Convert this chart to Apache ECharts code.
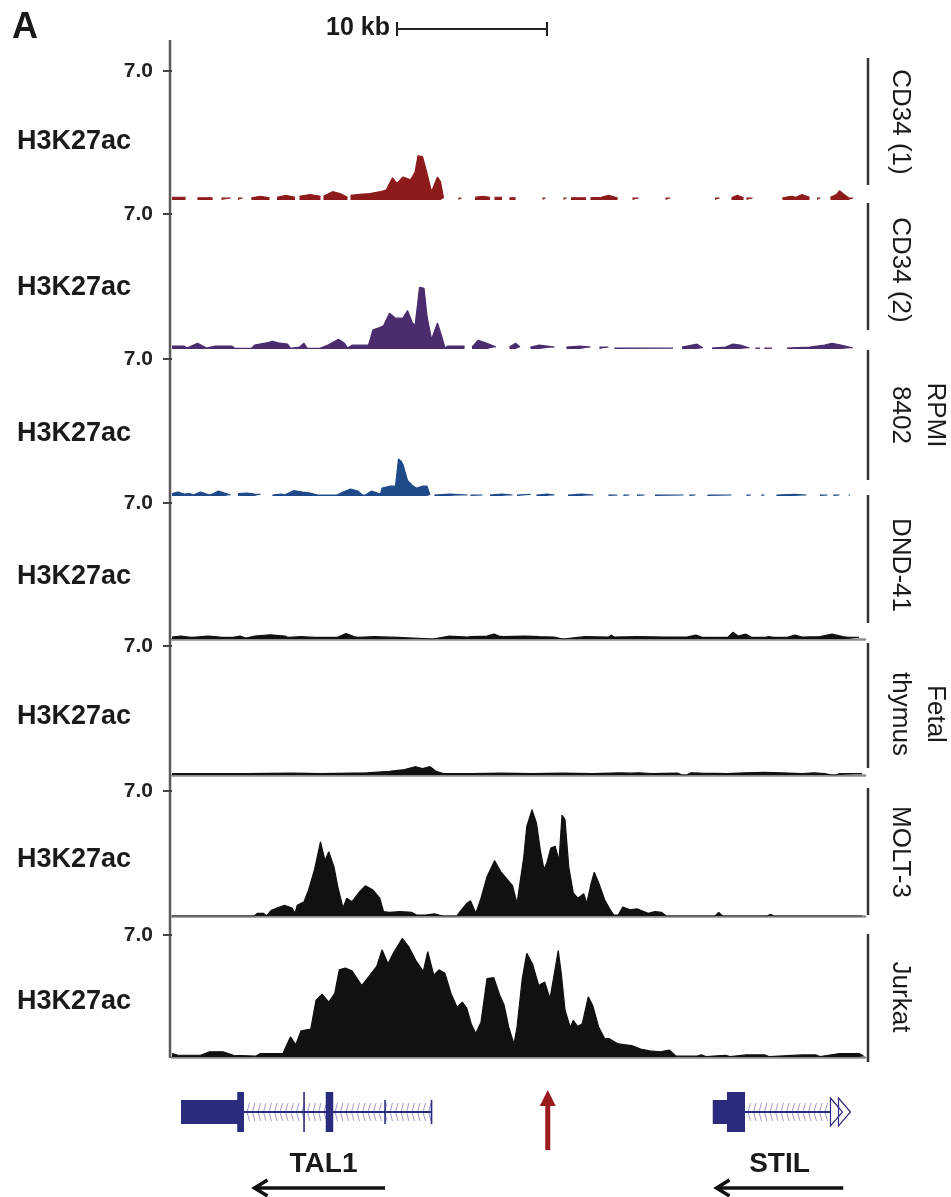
<!DOCTYPE html>
<html>
<head>
<meta charset="utf-8">
<script src="https://cdn.jsdelivr.net/npm/echarts@6.0.0/dist/echarts.min.js"></script>
<style>
  html, body { margin: 0; padding: 0; background: #fff; }
  #main { width: 951px; height: 1197px; }
</style>
</head>
<body>
<div id="main"></div>
<script>
// H3K27ac signal, [position (kb), value]; '-' = no data
var cd34a = [
  [0,0.15],[0.9,0.15],[1.3,'-'],[1.7,0.12],[2.7,0.12],[3.0,'-'],[3.3,0.1],[3.9,0.1],[4.1,'-'],
  [4.4,0.1],[4.7,0.1],[5.0,'-'],[5.3,0.12],[5.9,0.2],[6.5,0.12],[6.8,'-'],[7.0,0.15],[7.6,0.25],[8.2,0.15],[8.35,'-'],
  [8.5,0.2],[9.2,0.3],[9.9,0.2],[10.0,'-'],[10.1,0.2],[10.7,0.45],[11.2,0.35],[11.7,0.15],[11.8,'-'],
  [11.9,0.25],[12.5,0.3],[13.2,0.35],[13.9,0.45],[14.3,0.55],[14.5,0.9],[14.7,1.2],[15.0,0.9],[15.4,1.25],[15.9,1.1],
  [16.2,1.5],[16.4,2.4],[16.7,2.35],[17.0,1.45],[17.3,0.45],[17.7,1.25],[17.9,1.0],[18.1,0.1],[18.6,'-'],
  [19.1,0.1],[19.3,0.1],[19.7,'-'],[20.2,0.15],[20.7,0.2],[21.2,0.15],[21.35,'-'],[21.5,0.15],[22.0,0.15],[22.2,'-'],
  [22.5,0.12],[22.9,0.12],[23.5,'-'],[24.7,0.1],[24.9,0.1],[25.5,'-'],[26.1,0.1],[26.3,0.1],[26.45,'-'],
  [26.6,0.12],[27.6,0.12],[27.75,'-'],[27.9,0.12],[28.6,0.15],[29.1,0.25],[29.7,0.12],[30.2,'-'],
  [30.7,0.1],[31.1,0.1],[32,'-'],[32.9,0.1],[33.2,0.1],[34.5,'-'],[36.2,0.1],[36.5,0.1],[36.9,'-'],
  [37.3,0.12],[37.7,0.25],[38.1,0.12],[38.2,'-'],[38.3,0.1],[38.7,0.1],[39.5,'-'],
  [40.7,0.12],[41.3,0.2],[41.6,0.15],[42.0,0.3],[42.5,0.15],[42.8,'-'],[43.0,0.1],[43.2,0.1],[43.5,'-'],
  [43.9,0.15],[44.3,0.3],[44.5,0.5],[44.8,0.3],[45.1,0.12],[45.4,0.1]
];
var cd34b = [
  [0,0.15],[0.8,0.15],[1.0,0.05],[1.7,0.3],[2.3,0.05],[2.9,0.15],[4.0,0.15],[4.2,0.03],[5.3,0.03],[5.5,0.2],
  [6.2,0.3],[6.7,0.4],[7.2,0.3],[7.7,0.25],[7.9,0.03],[8.5,0.1],[8.8,0.3],[9.0,0.05],[9.5,0.03],[9.9,0.05],
  [10.4,0.2],[11.1,0.5],[11.5,0.3],[11.7,0.05],[12.0,0.2],[12.7,0.2],[13.1,0.2],[13.4,1.0],[13.8,1.1],[14.1,1.2],
  [14.5,1.85],[14.9,1.6],[15.4,1.6],[15.7,2.0],[16.0,1.4],[16.2,1.2],[16.4,2.5],[16.5,3.2],[16.8,3.15],[17.0,1.7],
  [17.3,0.5],[17.7,1.35],[18.0,0.6],[18.2,0.05],[18.4,0.15],[19.5,0.15],[19.8,'-'],
  [20.0,0.1],[20.4,0.45],[21.0,0.3],[21.6,0.1],[22.0,'-'],[22.5,0.1],[22.9,0.3],[23.2,0.1],[23.5,'-'],
  [23.9,0.1],[24.5,0.2],[25.5,0.1],[25.9,'-'],[26.3,0.1],[27.2,0.15],[27.9,0.1],[28.2,'-'],
  [28.5,0.1],[29.1,0.1],[29.3,'-'],[29.5,0.05],[33.4,0.05],[33.7,'-'],[34.0,0.1],[35.0,0.25],[35.4,0.05],[35.7,'-'],
  [36.0,0.05],[36.9,0.1],[37.4,0.25],[37.9,0.2],[38.5,0.05],[38.7,'-'],[38.9,0.05],[39.2,0.05],[39.35,'-'],
  [39.5,0.05],[40.0,0.05],[40.5,'-'],[41.0,0.05],[42.5,0.1],[43.5,0.2],[44.0,0.3],[44.6,0.2],[45.4,0.05]
];
var rpmi = [
  [0,0.12],[0.4,0.2],[0.8,0.1],[1.2,0.12],[1.4,0.05],[1.9,0.2],[2.5,0.05],[2.7,0.1],[3.1,0.25],[3.5,0.15],[3.9,0.05],[4.2,'-'],
  [4.4,0.12],[5.0,0.15],[5.5,0.1],[5.9,0.08],[6.3,'-'],[6.7,0.05],[7.3,0.1],[7.5,0.05],[8.1,0.27],[8.7,0.2],[9.2,0.15],
  [9.7,0.05],[11.0,0.05],[11.4,0.2],[11.9,0.35],[12.4,0.25],[12.7,0.05],[12.9,0.05],[13.3,0.25],[13.9,0.1],[14.0,0.4],
  [14.5,0.5],[14.9,0.5],[15.0,1.2],[15.1,1.9],[15.3,1.75],[15.4,1.6],[15.7,0.8],[16.0,0.55],[16.3,0.4],[16.7,0.5],
  [17.0,0.5],[17.2,0.05],[17.35,'-'],[17.5,0.05],[18.5,0.1],[19.7,0.05],[19.8,'-'],[19.9,0.05],[20.7,0.05],[20.9,'-'],
  [21.2,0.05],[22.0,0.1],[22.7,0.05],[22.85,'-'],[23.0,0.05],[23.9,0.08],[24.1,'-'],[24.3,0.05],[25.0,0.1],[25.5,0.05],[26,'-'],
  [26.4,0.05],[27.3,0.1],[28.1,0.05],[28.6,'-'],[29.1,0.05],[29.7,0.05],[29.9,'-'],[30.1,0.05],[30.5,0.05],[30.8,'-'],
  [31.0,0.05],[31.5,0.05],[31.8,'-'],[32.2,0.05],[34.1,0.05],[34.3,'-'],[34.5,0.05],[34.9,0.05],[35.3,'-'],
  [35.7,0.05],[37.3,0.05],[37.8,'-'],[38.3,0.05],[38.6,0.05],[38.9,'-'],[39.3,0.05],[39.5,0.05],[39.9,'-'],
  [40.3,0.05],[41.5,0.08],[42.3,0.05],[42.7,'-'],[43.2,0.05],[43.7,0.05],[43.9,'-'],[44.1,0.05],[44.5,0.05],[44.8,'-'],
  [45.1,0.05],[45.2,0.05]
];
var dnd41 = [
  [0,0.1],[0.6,0.15],[1.27,0.08],[1.6,0.1],[2.4,0.15],[3.2,0.1],[4.07,0.08],[4.53,0.15],[4.93,0.05],[5.53,0.15],
  [6.53,0.22],[7.53,0.15],[7.73,0.08],[8.6,0.12],[9.53,0.08],[11.07,0.1],[11.6,0.28],[12.13,0.12],[12.33,0.08],
  [13.5,0.12],[15.07,0.08],[15.2,0],[17.4,0],[17.53,0.1],[18.5,0.15],[19.67,0.1],[19.93,0.12],[21.0,0.15],[21.47,0.25],
  [21.8,0.15],[22.07,0.12],[23.5,0.15],[24.5,0.12],[25.47,0.1],[25.6,0],[26.07,0],[26.2,0.08],[27.5,0.12],[29.13,0.1],
  [29.27,0.2],[29.47,0.1],[31.0,0.12],[33.0,0.1],[34.33,0.1],[34.93,0.2],[35.4,0.08],[37.07,0.1],[37.4,0.35],[37.73,0.15],
  [38.27,0.25],[38.6,0.1],[39.53,0.08],[39.8,0.12],[40.13,0.08],[41.07,0.1],[41.53,0.2],[42.0,0.1],[43.2,0.12],[44.0,0.25],
  [44.73,0.12],[45.07,0.08],[45.8,0.08]
];
var fetalThymus = [
  [0,0.08],[5,0.08],[8,0.1],[10,0.08],[13,0.12],[14.5,0.2],[15.5,0.3],[16.2,0.45],[16.7,0.35],[17.2,0.45],[17.6,0.2],
  [18.1,0.08],[20,0.08],[22,0.1],[24,0.08],[26,0.1],[28,0.08],[29.9,0.12],[30.6,0.1],[31.1,0.12],[32,0.08],[33.7,0.1],
  [34.0,0],[34.3,0],[34.6,0.12],[35.3,0.1],[37,0.08],[38.2,0.12],[39.5,0.15],[40.6,0.12],[42,0.08],[42.8,0.12],[43.5,0.08],
  [44.0,0],[44.3,0],[44.5,0.08],[46,0.08]
];
var molt3 = [
  [0,0],[5.5,0],[5.7,0.15],[6.1,0.15],[6.3,0],[6.6,0.3],[7.0,0.45],[7.5,0.6],[8.0,0.45],[8.2,0.15],[8.35,0.6],[8.8,0.8],
  [9.1,1.45],[9.5,2.6],[9.9,4.15],[10.2,3.1],[10.45,3.6],[10.8,2.75],[11.05,1.65],[11.4,0.45],[11.65,1.0],[12.0,0.8],
  [12.45,1.3],[12.9,1.7],[13.4,1.45],[13.85,1.0],[14.1,0.25],[14.5,0.2],[15.2,0.25],[16.0,0.2],[16.3,0.05],[16.9,0.05],
  [17.5,0.12],[17.8,0.05],[18.1,0],[19.0,0],[19.2,0.25],[19.65,0.7],[19.9,0.85],[20.25,0.15],[20.6,1.0],[21.0,2.2],
  [21.5,3.1],[21.9,2.5],[22.4,2.0],[22.7,1.7],[23.0,0.7],[23.45,3.3],[23.65,5.0],[24.0,5.95],[24.3,5.2],[24.55,3.7],
  [24.8,2.6],[25.0,3.0],[25.25,3.8],[25.55,3.9],[25.8,3.1],[26.0,5.65],[26.2,5.4],[26.45,2.75],[26.75,1.3],[27.05,1.0],
  [27.45,1.25],[27.65,0.7],[27.95,1.85],[28.15,2.45],[28.45,1.85],[28.85,0.9],[29.15,0.45],[29.45,0.05],[29.75,0.05],
  [30.05,0.5],[30.55,0.35],[31.0,0.4],[31.45,0.25],[31.75,0.15],[32.2,0.25],[32.65,0.2],[32.95,0],[36.2,0],[36.45,0.2],
  [36.7,0],[39.7,0],[39.9,0.1],[40.1,0],[46,0]
];
var jurkat = [
  [0,0.2],[0.4,0.1],[1.9,0.1],[2.5,0.3],[3.4,0.3],[4.1,0.1],[5.6,0.05],[5.9,0.2],[7.4,0.2],[7.55,0.5],[7.9,1.15],
  [8.25,0.7],[8.6,1.5],[9.25,1.6],[9.6,3.25],[10.0,3.6],[10.45,3.15],[10.85,3.65],[11.15,5.0],[11.55,5.1],[12.0,4.95],
  [12.65,4.1],[13.2,4.7],[13.65,5.2],[14.0,6.15],[14.4,5.35],[14.75,5.95],[15.35,6.8],[15.8,6.3],[16.25,5.55],[16.75,4.9],
  [17.05,6.05],[17.45,4.7],[17.8,5.0],[18.2,4.8],[18.6,3.65],[19.0,2.85],[19.35,3.15],[19.65,2.8],[19.95,1.9],[20.25,1.35],
  [20.6,2.0],[21.0,4.5],[21.45,4.55],[21.85,3.55],[22.15,2.95],[22.45,1.7],[22.8,0.75],[23.0,1.7],[23.35,4.5],[23.65,5.95],
  [24.05,5.3],[24.45,4.1],[24.85,4.3],[25.2,3.35],[25.45,4.6],[25.75,6.1],[25.95,4.8],[26.2,2.7],[26.55,1.7],[26.75,2.1],
  [27.05,1.75],[27.35,1.9],[27.75,3.45],[28.05,2.95],[28.45,1.7],[28.85,1.05],[29.15,1.05],[29.75,0.75],[30.65,0.65],
  [31.25,0.45],[31.85,0.35],[32.55,0.3],[33.15,0.4],[33.6,0.05],[35.0,0.05],[35.3,0.12],[35.6,0.03],[36.9,0.1],[37.2,0.03],
  [38.3,0.12],[39.5,0.12],[39.8,0.03],[42.0,0.12],[42.9,0.12],[43.2,0.03],[44.5,0.2],[45.8,0.2],[46.1,0.05]
];

var tracks = [cd34a, cd34b, rpmi, dnd41, fetalThymus, molt3, jurkat];
var trackNames = ['CD34 (1)', 'CD34 (2)', 'RPMI\n8402', 'DND-41', 'Fetal\nthymus', 'MOLT-3', 'Jurkat'];
var markName = 'H3K27ac';
var yMax = 7.0;

// genes: [start kb, end kb, kind] kind 1 = tall exon, 0 = short
var tal1Exons = [[0.6,4.4,0],[4.35,4.8,1],[8.75,8.85,1],[10.25,10.75,1],[14.15,14.25,0],[17.25,17.35,0]];
var stilExons = [[36.05,37.0,0],[37.0,38.2,1]];
var introns = [[4.8,17.33],[38.2,43.9]];
var stilEnd = [[43.9]];
var geneNames = ['TAL1', 'STIL'];
var geneLabelAt = [10.1, 40.5];
var strandArrows = [[14.2,5.5],[44.75,36.3]];   // tail, head
var enhancerAt = [[25.05]];
var scaleBar = [[15, 25]];
var scaleLabel = '10 kb';

// layout
var font = '"Liberation Sans", Arial, Helvetica, sans-serif';
var trackTop = [71, 214, 359, 503, 646, 791, 935];
var trackBottom = [200, 349, 496, 639, 775, 916, 1057];
var brackets = [[58,185],[203,330],[350,480],[495,623],[643,768],[788,915],[934,1062]];
var labelMid = [122, 270, 415, 565, 714, 852, 997];
var colors = ['#8e1b1b', '#4b2c6f', '#1f4a8a', '#111', '#111', '#111', '#111'];
var geneColor = '#2b2b7d';
var plotLeft = 172, plotRight = 86, xMax = 46.2;

var chart = echarts.init(document.getElementById('main'));

var grids = [], xAxes = [], yAxes = [], series = [];
for (var i = 0; i < tracks.length; i++) {
  grids.push({ left: plotLeft, right: plotRight, top: trackTop[i], height: trackBottom[i] - trackTop[i] });
  xAxes.push({
    type: 'value', gridIndex: i, min: 0, max: xMax,
    axisLine: { show: i >= 3, lineStyle: { color: '#8c8c8c', width: 2.5 } },
    axisTick: { show: false }, axisLabel: { show: false }, splitLine: { show: false }
  });
  yAxes.push({
    type: 'value', gridIndex: i, min: 0, max: yMax, offset: 2,
    axisLine: { show: false }, splitLine: { show: false },
    axisTick: { show: true, length: 9, customValues: [yMax], lineStyle: { color: '#444', width: 2 } },
    axisLabel: {
      customValues: [yMax], margin: 17, fontSize: 21, fontWeight: 'bold', color: '#222', fontFamily: font,
      formatter: function (v) { return v.toFixed(1); }
    }
  });
  series.push({
    type: 'line', xAxisIndex: i, yAxisIndex: i, data: tracks[i],
    showSymbol: false, symbol: 'none', connectNulls: false, silent: true, z: 3,
    lineStyle: { width: 1.2, color: colors[i] },
    areaStyle: { color: colors[i], opacity: 1 }
  });
}

// gene grid
var gi = tracks.length;
grids.push({ left: plotLeft, right: plotRight, top: 1092, height: 40 });
xAxes.push({ type: 'value', gridIndex: gi, min: 0, max: xMax, show: false });
yAxes.push({ type: 'value', gridIndex: gi, min: -1, max: 1, show: false });

function renderExon(params, api) {
  var a = api.coord([api.value(0), 0]);
  var b = api.coord([api.value(1), 0]);
  var half = api.value(2) === 1 ? 20 : 12;
  return {
    type: 'rect',
    shape: { x: a[0], y: a[1] - half, width: Math.max(b[0] - a[0], 1.6), height: half * 2 },
    style: { fill: geneColor }
  };
}

function renderIntron(params, api) {
  var a = api.coord([api.value(0), 0]);
  var b = api.coord([api.value(1), 0]);
  var kids = [];
  for (var x = a[0] + 3; x < b[0] - 3; x += 5.5) {
    kids.push({
      type: 'polyline',
      shape: { points: [[x + 2.5, a[1] - 9], [x, a[1]], [x + 2.5, a[1] + 9]] },
      style: { stroke: '#9191cf', lineWidth: 0.9, fill: null }
    });
  }
  kids.push({ type: 'line', shape: { x1: a[0], y1: a[1], x2: b[0], y2: b[1] }, style: { stroke: geneColor, lineWidth: 2 } });
  return { type: 'group', children: kids };
}

function renderEnd(params, api) {
  var p = api.coord([api.value(0), 0]);
  var kids = [];
  for (var k = 0; k < 2; k++) {
    var x = p[0] + k * 8;
    kids.push({
      type: 'polygon',
      shape: { points: [[x, p[1] - 14], [x + 12, p[1]], [x, p[1] + 14]] },
      style: { stroke: geneColor, lineWidth: 1.2, fill: null }
    });
  }
  return { type: 'group', children: kids };
}

function renderEnhancer(params, api) {
  var p = api.coord([api.value(0), 0]);
  return {
    type: 'group', children: [
      { type: 'rect', shape: { x: p[0] - 2.5, y: p[1] - 8, width: 5, height: 46 }, style: { fill: '#9b1c1f' } },
      { type: 'polygon', shape: { points: [[p[0] - 8, p[1] - 6], [p[0], p[1] - 22], [p[0] + 8, p[1] - 6]] }, style: { fill: '#9b1c1f' } }
    ]
  };
}

function renderGeneLabel(params, api) {
  var c = api.coord([api.value(0), 0]);
  var t = api.coord([api.value(1), 0]);
  var h = api.coord([api.value(2), 0]);
  var ya = c[1] + 76;
  return {
    type: 'group', children: [
      { type: 'text', x: c[0], y: c[1] + 52,
        style: { text: geneNames[params.dataIndex], font: 'bold 28px ' + font, fill: '#1a1a1a', align: 'center', verticalAlign: 'middle' } },
      { type: 'line', shape: { x1: t[0], y1: ya, x2: h[0] + 1, y2: ya }, style: { stroke: '#111', lineWidth: 3.5 } },
      { type: 'polyline', shape: { points: [[h[0] + 13, ya - 8], [h[0], ya], [h[0] + 13, ya + 8]] },
        style: { stroke: '#111', lineWidth: 3.5, fill: null } }
    ]
  };
}

function renderScale(params, api) {
  var a = api.coord([api.value(0), 0]);
  var b = api.coord([api.value(1), 0]);
  var y = 29;
  return {
    type: 'group', children: [
      { type: 'line', shape: { x1: a[0], y1: y, x2: b[0], y2: y }, style: { stroke: '#222', lineWidth: 2 } },
      { type: 'line', shape: { x1: a[0], y1: y - 7, x2: a[0], y2: y + 7 }, style: { stroke: '#222', lineWidth: 2 } },
      { type: 'line', shape: { x1: b[0], y1: y - 7, x2: b[0], y2: y + 7 }, style: { stroke: '#222', lineWidth: 2 } },
      { type: 'text', x: a[0] - 7, y: y - 1,
        style: { text: scaleLabel, font: 'bold 25px ' + font, fill: '#1a1a1a', align: 'right', verticalAlign: 'middle' } }
    ]
  };
}

var geneLabelData = geneNames.map(function (n, k) {
  return [geneLabelAt[k], strandArrows[k][0], strandArrows[k][1]];
});

series.push(
  { type: 'custom', xAxisIndex: gi, yAxisIndex: gi, renderItem: renderIntron, data: introns, clip: false, silent: true },
  { type: 'custom', xAxisIndex: gi, yAxisIndex: gi, renderItem: renderExon, data: tal1Exons.concat(stilExons), clip: false, silent: true },
  { type: 'custom', xAxisIndex: gi, yAxisIndex: gi, renderItem: renderEnd, data: stilEnd, clip: false, silent: true },
  { type: 'custom', xAxisIndex: gi, yAxisIndex: gi, renderItem: renderEnhancer, data: enhancerAt, clip: false, silent: true },
  { type: 'custom', xAxisIndex: gi, yAxisIndex: gi, renderItem: renderGeneLabel, data: geneLabelData, clip: false, silent: true },
  { type: 'custom', xAxisIndex: 0, yAxisIndex: 0, renderItem: renderScale, data: scaleBar, clip: false, silent: true }
);

// static decorations: panel letter, left axis, track labels, brackets
var graphics = [
  { type: 'text', x: 12, y: 28, style: { text: 'A', font: 'bold 36px ' + font, fill: '#1a1a1a', verticalAlign: 'middle' } },
  { type: 'line', shape: { x1: 170, y1: 40, x2: 170, y2: 1058 }, style: { stroke: '#5a5a5a', lineWidth: 2.5 } }
];
for (var j = 0; j < tracks.length; j++) {
  graphics.push({
    type: 'text', x: 17, y: (trackTop[j] + trackBottom[j]) / 2 + 6,
    style: { text: markName, font: 'bold 27px ' + font, fill: '#1a1a1a', verticalAlign: 'middle' }
  });
  graphics.push({
    type: 'line', shape: { x1: 868, y1: brackets[j][0], x2: 868, y2: brackets[j][1] },
    style: { stroke: '#333', lineWidth: 2.5 }
  });
  graphics.push({
    type: 'text', x: 883, y: labelMid[j], rotation: -Math.PI / 2,
    style: { text: trackNames[j], font: '26px ' + font, fill: '#1a1a1a', align: 'center', verticalAlign: 'bottom', lineHeight: 35 }
  });
}

chart.setOption({
  animation: false,
  backgroundColor: '#fff',
  grid: grids,
  xAxis: xAxes,
  yAxis: yAxes,
  series: series,
  graphic: graphics
});
</script>
</body>
</html>
